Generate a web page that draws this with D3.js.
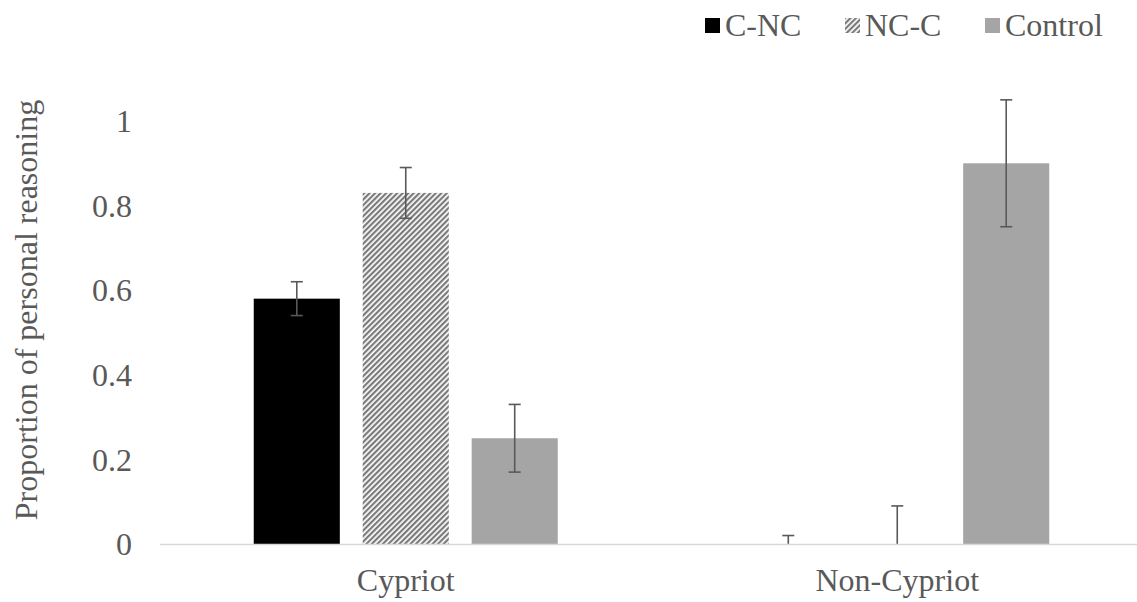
<!DOCTYPE html>
<html lang="en">
<head>
<meta charset="utf-8">
<script src="https://d3js.org/d3.v7.min.js"></script>
<style>
  html, body { margin: 0; padding: 0; background: #fff; }
  svg { display: block; }
  text { font-family: "Liberation Serif", "Times New Roman", serif; fill: #595959; }
</style>
</head>
<body>
<script>
// data
var groups = ["Cypriot", "Non-Cypriot"];
var series = ["C-NC", "NC-C", "Control"];
var means = [
  [0.58, 0.83, 0.25],   // Cypriot
  [0.00, 0.00, 0.90]    // Non-Cypriot
];
var errors = [
  [0.04, 0.06, 0.08],
  [0.02, 0.09, 0.15]
];
var yTicks = [0, 0.2, 0.4, 0.6, 0.8, 1];

var width = 1137, height = 602;
var margin = {left: 160};
var fontSize = "32px";

var svg = d3.select("body").append("svg")
    .attr("width", width)
    .attr("height", height);

// hatch for NC-C
var defs = svg.append("defs");
defs.append("pattern")
    .attr("id", "hatch")
    .attr("patternUnits", "userSpaceOnUse")
    .attr("width", 3.9)
    .attr("height", 3.9)
    .attr("patternTransform", "rotate(45)")
  .call(function(p) {
    p.append("rect").attr("width", 3.9).attr("height", 3.9).attr("fill", "#fff");
    p.append("rect").attr("width", 2.2).attr("height", 3.9).attr("fill", "#7a7a7a");
  });

var fills = {"C-NC": "#000000", "NC-C": "url(#hatch)", "Control": "#a5a5a5"};

var x0 = d3.scaleBand()
    .domain(groups)
    .range([margin.left, 1143]);

var x1 = d3.scaleBand()
    .domain(series)
    .range([0, 304])
    .paddingInner(0.21);

var y = d3.scaleLinear()
    .domain([0, 1])
    .range([544, 121]);

// y tick labels (no axis line)
svg.append("g")
    .selectAll("text")
    .data(yTicks)
    .enter().append("text")
    .attr("x", 132)
    .attr("y", function(d) { return y(d); })
    .attr("dy", "0.35em")
    .attr("text-anchor", "end")
    .style("font-size", fontSize)
    .text(function(d) { return d3.format("")(d); });

// y title
svg.append("text")
    .attr("transform", "translate(37," + 310 + ") rotate(-90)")
    .attr("text-anchor", "middle")
    .style("font-size", fontSize)
    .text("Proportion of personal reasoning");

// bars
var rows = [];
groups.forEach(function(g, gi) {
  series.forEach(function(s, si) {
    rows.push({group: g, series: s, value: means[gi][si], err: errors[gi][si]});
  });
});

var groupOffset = (x0.bandwidth() - 304) / 2;

var bar = svg.append("g").selectAll("g")
    .data(rows)
    .enter().append("g")
    .attr("transform", function(d) {
      return "translate(" + (x0(d.group) + groupOffset + x1(d.series)) + ",0)";
    });

bar.append("rect")
    .attr("x", 0)
    .attr("width", x1.bandwidth())
    .attr("y", function(d) { return y(d.value); })
    .attr("height", function(d) { return y(0) - y(d.value); })
    .attr("fill", function(d) { return fills[d.series]; });

// x axis line
svg.append("line")
    .attr("x1", margin.left).attr("x2", 1143)
    .attr("y1", y(0) + 0.5).attr("y2", y(0) + 0.5)
    .attr("stroke", "#d9d9d9")
    .attr("stroke-width", 1.5);

// error bars
var eb = bar.append("g")
    .attr("stroke", "#595959")
    .attr("stroke-width", 1.6)
    .attr("fill", "none");

eb.append("line")
    .attr("x1", x1.bandwidth() / 2).attr("x2", x1.bandwidth() / 2)
    .attr("y1", function(d) { return y(d.value + d.err); })
    .attr("y2", function(d) { return y(Math.max(0, d.value - d.err)); });

eb.append("line")
    .attr("x1", x1.bandwidth() / 2 - 6).attr("x2", x1.bandwidth() / 2 + 6)
    .attr("y1", function(d) { return y(d.value + d.err); })
    .attr("y2", function(d) { return y(d.value + d.err); });

eb.filter(function(d) { return d.value - d.err >= 0; })
  .append("line")
    .attr("x1", x1.bandwidth() / 2 - 6).attr("x2", x1.bandwidth() / 2 + 6)
    .attr("y1", function(d) { return y(d.value - d.err); })
    .attr("y2", function(d) { return y(d.value - d.err); });

// x labels
svg.append("g")
    .selectAll("text")
    .data(groups)
    .enter().append("text")
    .attr("x", function(d) { return x0(d) + x0.bandwidth() / 2; })
    .attr("y", 591)
    .attr("text-anchor", "middle")
    .style("font-size", fontSize)
    .text(function(d) { return d; });

// legend
var legendX = [705, 845, 985];
var legend = svg.append("g").selectAll("g")
    .data(series)
    .enter().append("g")
    .attr("transform", function(d, i) { return "translate(" + legendX[i] + ",0)"; });

legend.append("rect")
    .attr("x", 0).attr("y", 18)
    .attr("width", 15).attr("height", 15)
    .attr("fill", function(d) { return fills[d]; });

legend.append("text")
    .attr("x", 20)
    .attr("y", 36)
    .style("font-size", fontSize)
    .text(function(d) { return d; });
</script>
</body>
</html>
